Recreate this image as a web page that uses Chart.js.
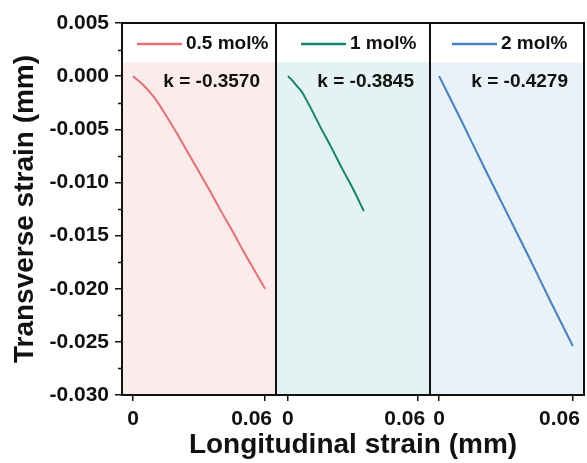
<!DOCTYPE html>
<html lang="en">
<head>
  <meta charset="UTF-8" />
  <title>Transverse vs longitudinal strain</title>
  <script src="https://cdn.jsdelivr.net/npm/chart.js"></script>
  <style>
    html, body { margin: 0; padding: 0; background: #fff; }
    #wrap { width: 587px; height: 463px; }
  </style>
</head>
<body>
<div id="wrap"><canvas id="strainChart" width="587" height="463"></canvas></div>

<script>
// panels, left to right
const panelNames = ["0.5 mol%", "1 mol%", "2 mol%"];
const slopeLabels = ["k = -0.3570", "k = -0.3845", "k = -0.4279"];
const lineColors = ["#e86e74", "#14876e", "#4282c4"];
const shadeColors = ["#fcebeb", "#e4f2f1", "#e9f1f9"];
const legendInset = [15, 25, 22];
const xMins = [-0.005, -0.0055, -0.0041];
const xMaxs = [0.065, 0.0655, 0.065];
const xTickValues = [0, 0.06];
const xTickLabels = ["0", "0.06"];
const yTickValues = [0.005, 0, -0.005, -0.01, -0.015, -0.02, -0.025, -0.03];
const shadeTop = 0.0013;
const xTitle = "Longitudinal strain (mm)";
const yTitle = "Transverse strain (mm)";

// 0.5 mol%
const xRed = [0, 0.005, 0.01, 0.015, 0.02, 0.025, 0.03, 0.035, 0.04, 0.045, 0.05, 0.055, 0.06];
const yRed = [0, -0.0009, -0.0021, -0.0037, -0.0054, -0.0072, -0.0090, -0.0108, -0.0127, -0.0145, -0.0164, -0.0182, -0.0200];
// 1 mol%
const xGreen = [0, 0.002, 0.004, 0.0065, 0.0076, 0.01, 0.015, 0.02, 0.025, 0.03, 0.035];
const yGreen = [0, -0.0004, -0.0009, -0.0015, -0.0019, -0.0028, -0.0048, -0.0067, -0.0087, -0.0106, -0.0127];
// 2 mol%
const xBlue = [0, 0.01, 0.02, 0.03, 0.04, 0.05, 0.06];
const yBlue = [0, -0.0042, -0.0085, -0.0127, -0.0169, -0.0212, -0.0254];

const seriesX = [xRed, xGreen, xBlue];
const seriesY = [yRed, yGreen, yBlue];
const axisIds = ["x1", "x2", "x3"];

const FONT = "'Liberation Sans', Arial, sans-serif";
const INK = "#111";

const datasets = panelNames.map((name, i) => ({
  label: name,
  data: seriesX[i].map((x, j) => ({ x, y: seriesY[i][j] })),
  xAxisID: axisIds[i],
  yAxisID: "y",
  borderColor: lineColors[i],
  borderWidth: 2,
  pointRadius: 0,
  cubicInterpolationMode: "monotone",
  fill: false
}));

function xScale(i) {
  return {
    type: "linear",
    position: "bottom",
    stack: "panels",
    stackWeight: 1,
    min: xMins[i],
    max: xMaxs[i],
    afterBuildTicks: s => { s.ticks = xTickValues.map(v => ({ value: v })); },
    // fixed height, and no extra side padding for the tick labels
    afterFit: s => { s.height = 68; s.paddingLeft = 0; s.paddingRight = 0; },
    border: { display: false },
    grid: { drawOnChartArea: false, drawTicks: true, tickLength: 6, color: INK, lineWidth: 1.5 },
    // labels are drawn by panelDecor so "0.06" can sit clear of the next panel's "0"
    ticks: { display: false, autoSkip: false }
  };
}

// shaded panel backgrounds behind the curves
const panelBackground = {
  id: "panelBackground",
  beforeDatasetsDraw(chart) {
    const { ctx, chartArea, scales } = chart;
    const top = scales.y.getPixelForValue(shadeTop);
    ctx.save();
    axisIds.forEach((id, i) => {
      const s = scales[id];
      ctx.fillStyle = shadeColors[i];
      ctx.fillRect(s.left, top, s.right - s.left, chartArea.bottom - top);
    });
    ctx.restore();
  }
};

// frames, minor ticks, x tick labels, per-panel legend, slope text and the shared x title
const panelDecor = {
  id: "panelDecor",
  afterDraw(chart) {
    const { ctx, chartArea, scales } = chart;
    const y = scales.y;
    ctx.save();
    ctx.strokeStyle = INK;
    ctx.lineWidth = 1.5;
    for (let v = -0.0275; v < 0.005; v += 0.005) {
      const py = Math.round(y.getPixelForValue(v)) + 0.5;
      ctx.beginPath();
      ctx.moveTo(chartArea.left - 4, py);
      ctx.lineTo(chartArea.left, py);
      ctx.stroke();
    }
    ctx.lineWidth = 2;
    axisIds.forEach((id, i) => {
      const s = scales[id];
      ctx.strokeRect(s.left, chartArea.top, s.right - s.left, chartArea.bottom - chartArea.top);

      ctx.fillStyle = INK;
      ctx.font = "bold 21px " + FONT;
      ctx.textBaseline = "alphabetic";
      xTickValues.forEach((v, k) => {
        const px = s.getPixelForValue(v);
        if (k === 0) {
          ctx.textAlign = "center";
          ctx.fillText(xTickLabels[k], px, chartArea.bottom + 30);
        } else {
          ctx.textAlign = "right";
          ctx.fillText(xTickLabels[k], px + 7, chartArea.bottom + 30);
        }
      });

      const legY = chartArea.top + 21;
      const lx = s.left + legendInset[i];
      ctx.strokeStyle = lineColors[i];
      ctx.lineWidth = 2.5;
      ctx.beginPath();
      ctx.moveTo(lx, legY);
      ctx.lineTo(lx + 45, legY);
      ctx.stroke();

      ctx.font = "bold 19px " + FONT;
      ctx.textBaseline = "middle";
      ctx.textAlign = "left";
      ctx.fillText(panelNames[i], lx + 49, legY);

      ctx.textAlign = "right";
      ctx.fillText(slopeLabels[i], s.right - 16, chartArea.top + 59);

      ctx.strokeStyle = INK;
      ctx.lineWidth = 2;
    });

    ctx.fillStyle = INK;
    ctx.font = "bold 28px " + FONT;
    ctx.textAlign = "center";
    ctx.textBaseline = "alphabetic";
    ctx.fillText(xTitle, (chartArea.left + chartArea.right) / 2, 453);
    ctx.restore();
  }
};

new Chart(document.getElementById("strainChart"), {
  type: "line",
  data: { datasets },
  options: {
    responsive: false,
    animation: false,
    layout: { autoPadding: false, padding: { left: 0, right: 3, top: 23, bottom: 0 } },
    plugins: { legend: { display: false }, tooltip: { enabled: false } },
    scales: {
      x1: xScale(0),
      x2: xScale(1),
      x3: xScale(2),
      y: {
        type: "linear",
        position: "left",
        min: -0.03,
        max: 0.005,
        afterBuildTicks: s => { s.ticks = yTickValues.map(v => ({ value: v })); },
        afterFit: s => { s.width = 122; s.paddingTop = 0; s.paddingBottom = 0; },
        border: { display: false },
        grid: { drawOnChartArea: false, drawTicks: true, tickLength: 7, color: INK, lineWidth: 1.5 },
        ticks: {
          padding: 6, color: INK,
          font: { family: FONT, size: 21, weight: "bold" },
          callback: v => v.toFixed(3)
        },
        title: {
          display: true,
          text: yTitle,
          color: INK,
          font: { family: FONT, size: 28, weight: "bold" },
          padding: { top: 8, bottom: 0 }
        }
      }
    }
  },
  plugins: [panelBackground, panelDecor]
});
</script>
</body>
</html>
